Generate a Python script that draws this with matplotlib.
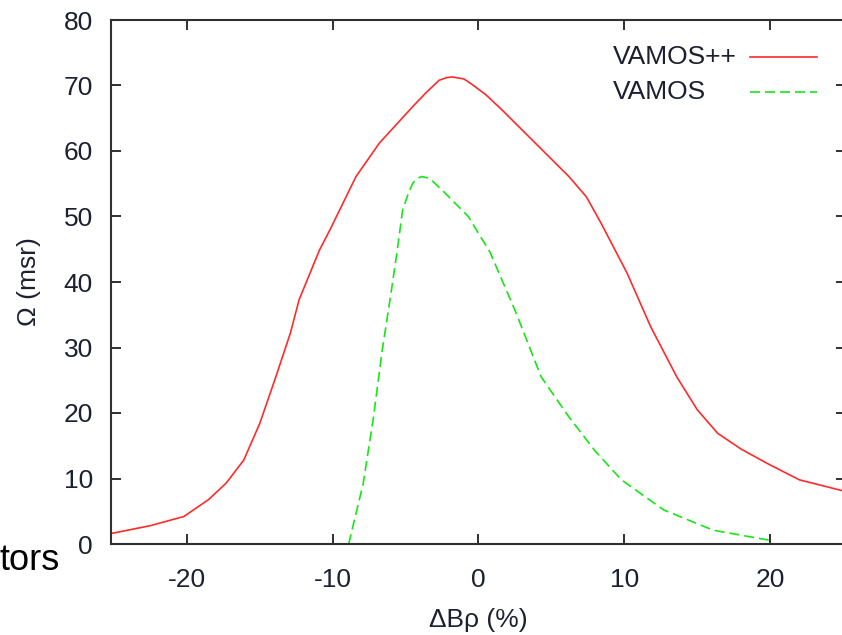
import matplotlib
matplotlib.use("Agg")
import matplotlib.pyplot as plt
from matplotlib.lines import Line2D

plt.rcParams['font.family'] = ['Liberation Sans', 'DejaVu Sans']
plt.rcParams['axes.unicode_minus'] = False

# VAMOS++ (red, solid)
x_vpp = [-25.2, -22.5, -20.2, -18.5, -17.3, -16.1, -15.0, -13.9, -12.9, -12.3,
         -10.9, -10.2, -8.4, -6.8, -4.5, -3.6, -2.7, -2.2, -1.8, -1.0, -0.4, 0.5, 1.6, 3.9,
         6.2, 7.4, 8.4, 10.2, 11.8, 13.6, 15.0, 16.4, 18.0, 19.8, 22.0, 25.2]
y_vpp = [1.6, 2.8, 4.2, 6.8, 9.3, 12.8, 18.4, 25.5, 32.2, 37.3,
         44.9, 47.9, 56.1, 61.2, 66.8, 68.9, 70.8, 71.2, 71.3, 71.0, 70.1, 68.6, 66.3, 61.2,
         56.1, 53.0, 49.0, 41.3, 33.2, 25.5, 20.5, 16.9, 14.5, 12.3, 9.8, 8.0]

# VAMOS (green, dashed)
x_v = [-8.9, -7.9, -7.2, -6.6, -6.0, -5.6, -5.2, -4.8, -4.5, -4.2, -3.9, -3.5, -3.1,
       -2.3, -0.7, 0.8, 2.5, 4.3, 6.2, 8.0, 9.8, 12.7, 16.1, 19.9]
y_v = [0.0, 9.3, 19.4, 29.6, 38.3, 44.4, 51.0, 53.6, 55.1, 55.8, 56.1, 55.9, 55.3,
       53.6, 50.0, 44.5, 35.7, 25.5, 19.4, 14.2, 9.8, 5.2, 2.1, 0.6]

labels = ["VAMOS++", "VAMOS"]
x_ticks = [-20, -10, 0, 10, 20]
y_ticks = [0, 10, 20, 30, 40, 50, 60, 70, 80]

W, H = 842, 635
fig = plt.figure(figsize=(W / 100, H / 100), dpi=100)
ax = fig.add_axes([111 / W, (H - 544) / H, (846 - 111) / W, (544 - 20) / H])

red = '#ff2a2a'
green = '#16e616'
ax.plot(x_vpp, y_vpp, color=red, lw=1.2)
ax.plot(x_v, y_v, color=green, lw=1.2, dashes=(6, 3))

ax.set_xlim(-25.2, 25.2)
ax.set_ylim(0, 80)
ax.set_xticks(x_ticks)
ax.set_yticks(y_ticks)

txt_col = '#1c2030'
ax.tick_params(direction='in', length=7, width=1.4, top=True, right=True,
               labelsize=19, labelcolor=txt_col, color='#303030')
ax.tick_params(axis='x', pad=17)
ax.tick_params(axis='y', pad=13)
for s in ax.spines.values():
    s.set_linewidth(1.5)
    s.set_color('#303030')

ax.set_xlabel('ΔBρ (%)', fontsize=19, color=txt_col, labelpad=12)
ax.set_ylabel('Ω (msr)', fontsize=19, color=txt_col, labelpad=16)

# legend (gnuplot style: left-aligned labels, sample line to the right)
for i, (lab, col, ls) in enumerate([(labels[0], red, None), (labels[1], green, (6, 3))]):
    ypx = 57 + 35 * i
    fig.text(613 / W, (H - ypx) / H, lab, fontsize=19, color=txt_col,
             ha='left', va='center')
    ln = Line2D([750 / W, 817 / W], [(H - ypx) / H, (H - ypx) / H],
                transform=fig.transFigure, color=col, lw=1.2)
    if ls is not None:
        ln.set_dashes(ls)
    fig.add_artist(ln)

fig.text(60 / W, (H - 570) / H, 'tors', fontsize=26, ha='right', va='baseline',
         color='black')

fig.savefig('out.png', dpi=100)
